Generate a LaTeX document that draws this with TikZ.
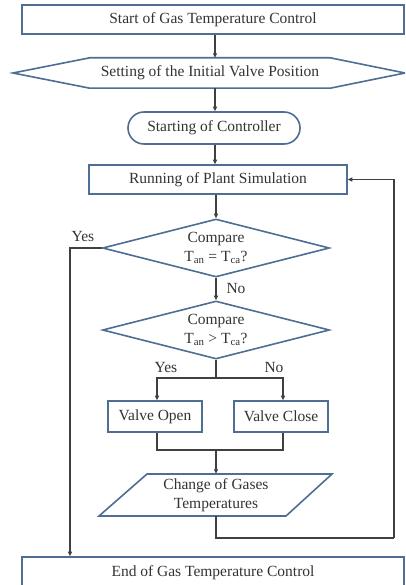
\documentclass[tikz,border=0pt]{standalone}
\usepackage{fontspec}
\setmainfont{Liberation Serif}
\usetikzlibrary{arrows.meta,shapes.geometric}
\definecolor{bordc}{HTML}{4E6E93}
\definecolor{linec}{HTML}{404040}
\definecolor{txtc}{HTML}{333333}
\tikzset{
  shapeline/.style={draw=bordc,line width=1.6pt},
  boxnode/.style={shapeline,rectangle,inner sep=0pt,text=txtc,font=\fontsize{15.5}{19}\selectfont,align=center},
  plainnode/.style={rectangle,inner sep=0pt,text=txtc,font=\fontsize{15.5}{19}\selectfont,align=center},
  decnode/.style={shapeline,diamond,inner sep=0pt,aspect=3.9,minimum width=227pt,minimum height=58pt,text=txtc,font=\fontsize{15.5}{19}\selectfont,align=center},
  conn/.style={draw=linec,line width=1.2pt},
  arr/.style={conn,-{Triangle[length=4.5pt,width=4pt]}},
  lbl/.style={text=txtc,font=\fontsize{15.5}{19}\selectfont,inner sep=0pt}
}
\begin{document}
\begin{tikzpicture}[x=1pt,y=-1pt]
\clip (0,0) rectangle (405,585);
\fill[white] (0,0) rectangle (405,585);
% nodes
\node[boxnode,minimum width=382pt,minimum height=29pt] (start) at (213,19.5) {Start of Gas Temperature Control};
\node[plainnode,minimum width=240pt,minimum height=30pt] (hex) at (210,73) {Setting of the Initial Valve Position};
\draw[shapeline] (hex.north west) -- (hex.north east) -- (405,73) -- (hex.south east) -- (hex.south west) -- (13,73) -- cycle;
\node[boxnode,rounded corners=16pt,minimum width=172pt,minimum height=32pt] (ctrl) at (214,128) {Starting of Controller};
\node[boxnode,minimum width=258pt,minimum height=29pt] (run) at (218,179.5) {Running of Plant Simulation};
\node[decnode] (d1) at (216,248) {Compare\\T\textsubscript{an} = T\textsubscript{ca}?};
\node[decnode] (d2) at (216,330) {Compare\\T\textsubscript{an} > T\textsubscript{ca}?};
\node[boxnode,minimum width=94pt,minimum height=31pt] (vo) at (155,416.5) {Valve Open};
\node[boxnode,minimum width=94pt,minimum height=31pt] (vc) at (281,416.5) {Valve Close};
\node[plainnode,minimum width=186pt,minimum height=42pt] (chg) at (216,495) {Change of Gases\\Temperatures};
\draw[shapeline] (99,516) -- (147,474) -- (332,474) -- (286,516) -- cycle;
\node[boxnode,minimum width=382pt,minimum height=40pt] (endb) at (213,577) {};
\node[lbl] (endt) at (213,573) {End of Gas Temperature Control};
% helper coordinates
\coordinate (yesx) at (70,248);
\coordinate (split) at (216,378);
\coordinate (merge) at (216,450);
\coordinate (loopa) at (216,538);
\coordinate (loopb) at (394,538);
% connectors
\draw[arr] (start.south -| 215,0) -- (hex.north -| 215,0);
\draw[arr] (hex.south -| 215,0) -- (ctrl.north -| 215,0);
\draw[arr] (ctrl.south -| 215,0) -- (run.north -| 215,0);
\draw[arr] (run.south -| 216,0) -- (d1.north);
\draw[arr] (d1.south) -- (d2.north);
\draw[arr] (d1.west) -- (yesx) -- (yesx |- endb.north);
\draw[conn] (d2.south) -- (split);
\draw[arr] (split) -| (vo.north -| 157,0);
\draw[arr] (split) -| (vc.north -| 283,0);
\draw[conn] (vo.south -| 157,0) |- (merge) -| (vc.south -| 283,0);
\draw[arr] (merge) -- (chg.north);
\draw[conn] (chg.south) -- (loopa) -- (loopb);
\draw[arr] (loopb) |- (run.east);
% labels
\node[lbl] (ly1) at (83,237) {Yes};
\node[lbl] (ln1) at (236,288) {No};
\node[lbl] (ly2) at (166,367) {Yes};
\node[lbl] (ln2) at (274,367) {No};
\end{tikzpicture}
\end{document}
